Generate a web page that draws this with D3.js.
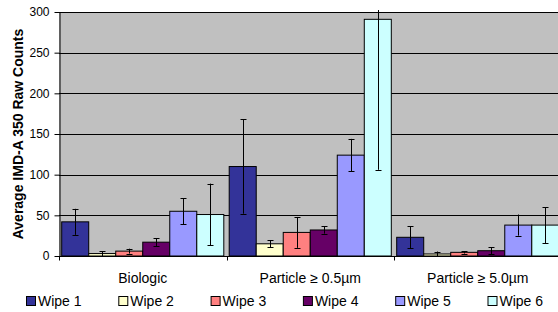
<!DOCTYPE html>
<html>
<head>
<meta charset="utf-8">
<script src="https://cdn.jsdelivr.net/npm/d3@7"></script>
<style>
  body { margin: 0; background: #fff; }
  svg { display: block; font-family: "Liberation Sans", Arial, sans-serif; }
</style>
</head>
<body>
<svg id="chart" width="558" height="312"></svg>
<script>
const categories = ['Biologic', 'Particle ≥ 0.5µm', 'Particle ≥ 5.0µm']
const series = ['Wipe 1', 'Wipe 2', 'Wipe 3', 'Wipe 4', 'Wipe 5', 'Wipe 6']
const colors = ['#333399', '#FFFFCC', '#FF8080', '#660066', '#9999FF', '#CCFFFF']
// means per series, one value per category
const means = [
  [42, 110, 23],
  [3, 15, 2.5],
  [6, 29, 4.5],
  [17, 32, 6.5],
  [55, 124, 38],
  [51, 291, 38]
]
// error (± one sd)
const errors = [
  [16, 58, 13.5],
  [3, 4.5, 3],
  [3, 19, 1.5],
  [5, 4.5, 4],
  [16, 20, 13],
  [38, 185, 22]
]
const yTicks = [0, 50, 100, 150, 200, 250, 300]

const svg = d3.select('#chart')
const mLeft = 59, mTop = 12, mBottom = 256, mRight = 561.5

let x = d3.scaleBand().domain(categories).range([mLeft, mRight]).paddingInner(0).paddingOuter(0)
let xs = d3.scaleBand().domain(series).range([0, x.bandwidth()]).paddingInner(0).paddingOuter(0.1)
let y = d3.scaleLinear().domain([0, 300]).range([mBottom, mTop])

// plot background
svg.append('rect')
  .attr('x', mLeft).attr('y', mTop)
  .attr('width', mRight - mLeft).attr('height', mBottom - mTop)
  .attr('fill', '#C0C0C0')

// gridlines
svg.append('g')
  .selectAll('line')
  .data(yTicks.filter(d => d > 0))
  .enter().append('line')
  .attr('x1', mLeft).attr('x2', mRight)
  .attr('y1', d => Math.round(y(d)) + 0.5).attr('y2', d => Math.round(y(d)) + 0.5)
  .attr('stroke', '#000')
  .attr('stroke-width', 1)

let rows = []
series.forEach((s, i) => {
  categories.forEach((c, j) => {
    rows.push({ series: s, cat: c, value: means[i][j], err: errors[i][j], color: colors[i] })
  })
})

svg.append('g')
  .selectAll('rect')
  .data(rows)
  .enter().append('rect')
  .attr('x', d => x(d.cat) + xs(d.series))
  .attr('y', d => y(d.value))
  .attr('width', xs.bandwidth())
  .attr('height', d => mBottom - y(d.value))
  .attr('fill', d => d.color)
  .attr('stroke', '#000')
  .attr('stroke-width', 1)

// error bars
let eb = svg.append('g').attr('stroke', '#000').attr('stroke-width', 1)
rows.forEach(d => {
  const cx = Math.round(x(d.cat) + xs(d.series) + xs.bandwidth() / 2) + 0.5
  const hi = d.value + d.err, lo = Math.max(0, d.value - d.err)
  const yHi = Math.max(y(hi), mTop - 2), yLo = y(lo)
  eb.append('line').attr('x1', cx).attr('x2', cx).attr('y1', yHi).attr('y2', yLo)
  if (hi <= 300) {
    eb.append('line').attr('x1', cx - 3).attr('x2', cx + 3).attr('y1', Math.round(yHi) + 0.5).attr('y2', Math.round(yHi) + 0.5)
  }
  eb.append('line').attr('x1', cx - 3).attr('x2', cx + 3).attr('y1', Math.round(yLo) + 0.5).attr('y2', Math.round(yLo) + 0.5)
})

// y axis
let yAxis = d3.axisLeft(y).tickValues(yTicks).tickSize(5).tickSizeOuter(0)
let gy = svg.append('g').attr('transform', `translate(${mLeft + 0.5},0)`).call(yAxis)
gy.select('.domain').attr('stroke', '#000')
gy.selectAll('.tick line').attr('stroke', '#000')
gy.selectAll('.tick text').attr('font-size', 12).attr('fill', '#000').attr('font-family', '"Liberation Sans", Arial, sans-serif').attr('x', -10)

// x axis
let gx = svg.append('g').attr('transform', `translate(0,${mBottom + 0.5})`)
gx.append('line').attr('x1', mLeft).attr('x2', mRight).attr('stroke', '#000')
gx.selectAll('.cat-tick')
  .data(categories.concat(['end']))
  .enter().append('line')
  .attr('x1', (d, i) => Math.round(mLeft + i * x.bandwidth()) + 0.5)
  .attr('x2', (d, i) => Math.round(mLeft + i * x.bandwidth()) + 0.5)
  .attr('y1', 0).attr('y2', 4)
  .attr('stroke', '#000')
gx.selectAll('.cat-label')
  .data(categories)
  .enter().append('text')
  .attr('x', d => x(d) + x.bandwidth() / 2)
  .attr('y', 26)
  .attr('text-anchor', 'middle')
  .attr('font-size', 14)
  .attr('fill', '#000')
  .text(d => d)

// y axis title
svg.append('text')
  .attr('transform', `translate(23,${(mTop + mBottom) / 2}) rotate(-90)`)
  .attr('text-anchor', 'middle')
  .attr('font-size', 14)
  .attr('font-weight', 'bold')
  .attr('fill', '#000')
  .text('Average IMD-A 350 Raw Counts')

// legend
let lg = svg.append('g')
  .selectAll('g')
  .data(series)
  .enter().append('g')
  .attr('transform', (d, i) => `translate(${26 + i * 92.3},296)`)
lg.append('rect')
  .attr('x', 0.5).attr('y', 0.5)
  .attr('width', 9).attr('height', 9)
  .attr('fill', (d, i) => colors[i])
  .attr('stroke', '#000')
lg.append('text')
  .attr('x', 12).attr('y', 10)
  .attr('font-size', 14)
  .attr('fill', '#000')
  .text(d => d)
</script>
</body>
</html>
